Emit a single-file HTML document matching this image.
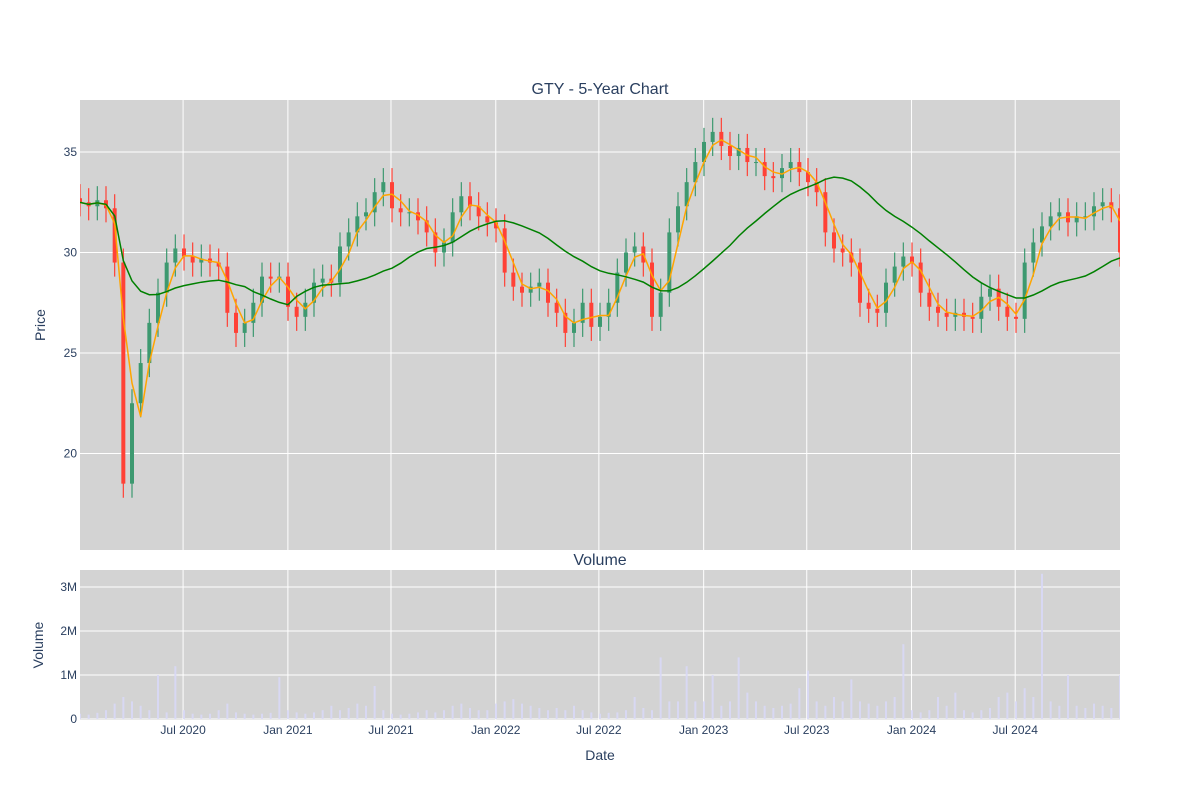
<!DOCTYPE html>
<html><head><meta charset="utf-8"><style>
body{margin:0;background:#fff;font-family:"Liberation Sans",sans-serif}
svg text{font-family:"Liberation Sans",sans-serif;fill:#2a3f5f}
</style></head><body>
<svg id="chart" width="1200" height="800" xmlns="http://www.w3.org/2000/svg">
<defs>
<clipPath id="pc"><rect x="80" y="100" width="1040" height="450"/></clipPath>
<clipPath id="vc"><rect x="80" y="570" width="1040" height="150"/></clipPath>
</defs>
<rect x="0" y="0" width="1200" height="800" fill="#fff"/>
<rect x="80" y="100" width="1040" height="450" fill="#d3d3d3"/>
<rect x="80" y="570" width="1040" height="150" fill="#d3d3d3"/>
<g id="grid"></g><g id="vol" clip-path="url(#vc)"></g><g id="candles" clip-path="url(#pc)"></g><g id="lines" clip-path="url(#pc)"></g><g id="labels"></g>
<text x="600" y="94" text-anchor="middle" font-size="16">GTY - 5-Year Chart</text>
<text x="600" y="565" text-anchor="middle" font-size="16">Volume</text>
<text x="45" y="325" text-anchor="middle" font-size="14" transform="rotate(-90 45 325)">Price</text>
<text x="43" y="645" text-anchor="middle" font-size="14" transform="rotate(-90 43 645)">Volume</text>
<text x="600" y="760" text-anchor="middle" font-size="14">Date</text>
</svg>
<script>
const closes=[32.5,32.3,32.6,32.2,29.5,18.5,22.5,24.5,26.5,28,29.5,30.2,29.8,29.5,29.7,29.5,29.3,27,26,26.5,27.5,28.8,28.7,28.8,27.3,26.8,27.5,28.5,28.7,28.5,30.3,31,31.8,32,33,33.5,32.2,32,32,31.6,31,30,30.5,32,32.8,32.3,31.8,31.5,31.2,29,28.3,28,28.3,28.5,27.5,27,26,26.5,27.5,26.3,26.8,27.5,29,30,30.3,29.5,26.8,28,31,32.3,33.5,34.5,35.5,36,35.3,34.8,35.2,34.5,34.5,33.8,33.7,34.2,34.5,34,33.5,33,31,30.2,30,29.5,27.5,27.2,27,28.5,29.3,29.8,29.5,28,27.3,27,26.8,27,26.8,26.7,27.8,28.2,27.3,26.8,26.7,29.5,30.5,31.3,31.8,32,31.5,31.8,31.8,32.3,32.5,32.2,30];
const volumes=[0.12,0.1,0.14,0.2,0.35,0.5,0.4,0.3,0.2,1.0,0.15,1.2,0.2,0.12,0.1,0.12,0.2,0.35,0.15,0.12,0.1,0.12,0.14,0.95,0.2,0.15,0.12,0.15,0.2,0.3,0.2,0.25,0.35,0.3,0.75,0.2,0.12,0.1,0.12,0.15,0.2,0.15,0.2,0.3,0.35,0.25,0.2,0.2,0.35,0.4,0.45,0.35,0.3,0.25,0.2,0.25,0.2,0.3,0.2,0.15,0.12,0.14,0.15,0.2,0.5,0.25,0.2,1.4,0.4,0.4,1.2,0.4,0.4,1.0,0.3,0.4,1.4,0.6,0.4,0.3,0.25,0.3,0.35,0.7,1.1,0.4,0.3,0.5,0.4,0.9,0.4,0.35,0.3,0.4,0.5,1.7,0.2,0.15,0.2,0.5,0.3,0.6,0.2,0.15,0.2,0.25,0.5,0.6,0.4,0.7,0.5,3.3,0.4,0.3,1.0,0.3,0.25,0.35,0.3,0.25,1.0];
const priceTicks=[20,25,30,35];
const volTicks=[0,1,2,3];
const volTickLabels=["0","1M","2M","3M"];
const dateTicks=["2020-07-01","2021-01-01","2021-07-01","2022-01-01","2022-07-01","2023-01-01","2023-07-01","2024-01-01","2024-07-01"];
const dateTickLabels=["Jul 2020","Jan 2021","Jul 2021","Jan 2022","Jul 2022","Jan 2023","Jul 2023","Jan 2024","Jul 2024"];
const NS="http://www.w3.org/2000/svg";
const y=p=>152+(35-p)*20.1;
const yv=v=>719-v*44;
const n=closes.length;
const xi=i=>80+i*1040/(n-1);
const t0=Date.parse("2020-01-02"),t1=Date.parse("2025-01-01");
const xd=d=>80+(Date.parse(d)-t0)/(t1-t0)*1040;
function mk(tag,parent,attrs){const e=document.createElementNS(NS,tag);for(const k in attrs)e.setAttribute(k,attrs[k]);document.getElementById(parent).appendChild(e);return e;}
priceTicks.forEach(p=>{
 const l=mk('line','grid',{x1:80,x2:1120,y1:y(p),y2:y(p),stroke:'#fff','stroke-width':1});
 
 
 const t=mk('text','labels',{x:77,y:y(p)+4,'text-anchor':'end','font-size':12});t.textContent=p;
 
 
});
volTicks.forEach((v,i)=>{
 const l=mk('line','grid',{x1:80,x2:1120,y1:yv(v),y2:yv(v),stroke:'#fff','stroke-width':1});
 
 
 const t=mk('text','labels',{x:77,y:yv(v)+4,'text-anchor':'end','font-size':12});t.textContent=volTickLabels[i];
 
 
});
dateTicks.forEach((d,i)=>{
 const x=xd(d);
 const l=mk('line','grid',{x1:x,x2:x,y1:100,y2:550,stroke:'#fff','stroke-width':1});
 
 
 const l2=mk('line','grid',{x1:x,x2:x,y1:570,y2:720,stroke:'#fff','stroke-width':1});
 
 
 const t=mk('text','labels',{x:x,y:734,'text-anchor':'middle','font-size':12});t.textContent=dateTickLabels[i];
 
 
});
const w=1040/(n-1);
volumes.forEach((v,i)=>{
 const r=mk('rect','vol',{x:xi(i)-1,y:yv(v),width:2,height:719-yv(v),fill:'#d8d8f6',opacity:0.9});
 
 
});
closes.forEach((c,i)=>{
 const o=i>0?closes[i-1]:c+0.2;
 const hi=Math.max(o,c)+0.7,lo=Math.min(o,c)-0.7;
 const col=c>=o?'#3d9970':'#ff4136';
 const x=xi(i);
 const g=mk('g','candles',{});
 
 
 const wl=document.createElementNS(NS,'line');
 [['x1',x],['x2',x],['y1',y(hi)],['y2',y(lo)],['stroke',col],['stroke-width',1.2]].forEach(a=>wl.setAttribute(a[0],a[1]));
 g.appendChild(wl);
 const b=document.createElementNS(NS,'rect');
 const top=y(Math.max(o,c)),bh=Math.max(1,Math.abs(y(o)-y(c)));
 [['x',x-2],['y',top],['width',4],['height',bh],['fill',col]].forEach(a=>b.setAttribute(a[0],a[1]));
 g.appendChild(b);
});
function ma(win){return closes.map((_,i)=>{const s=closes.slice(Math.max(0,i-win+1),i+1);return s.reduce((a,b)=>a+b,0)/s.length;});}
function path(arr,col,name){
 const d=arr.map((v,i)=>(i?'L':'M')+xi(i).toFixed(1)+','+y(v).toFixed(1)).join('');
 const p=mk('path','lines',{d:d,fill:'none',stroke:col,'stroke-width':1.5});
 
 
}
path(ma(3),'orange','ma-short-line');
path(ma(20),'green','ma-long-line');
</script>
</body></html>
